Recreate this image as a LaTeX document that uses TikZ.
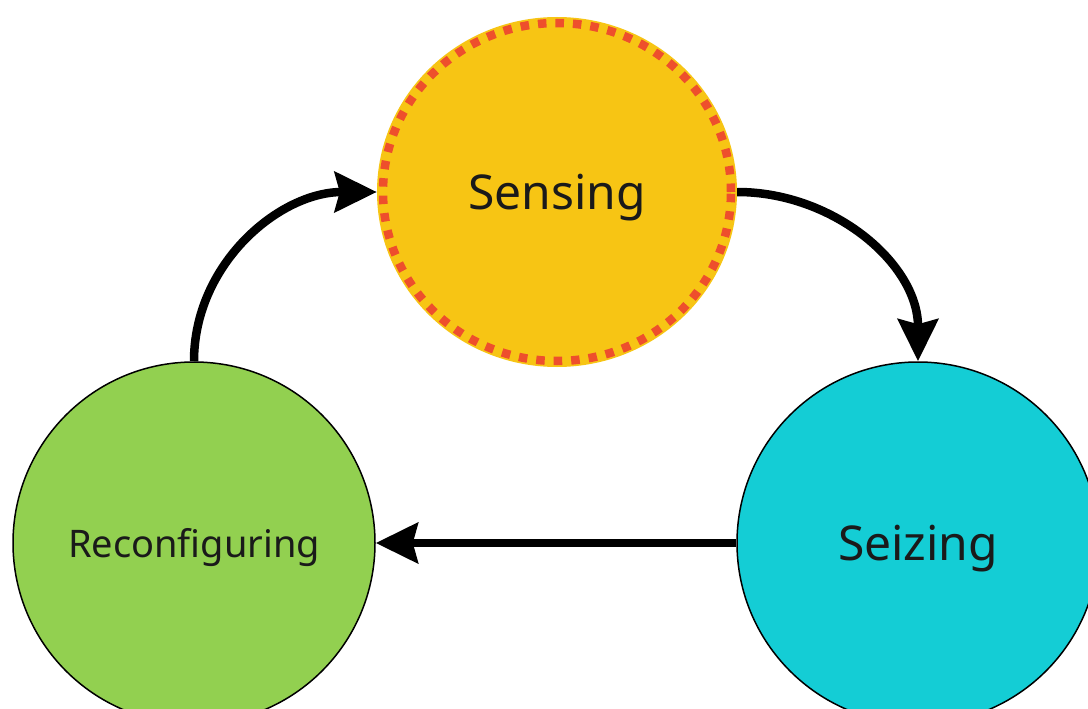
\documentclass[tikz,border=0pt]{standalone}
\usepackage{fontspec}
\setmainfont{Noto Sans}
\usetikzlibrary{arrows.meta,shapes.geometric}
\definecolor{senseyellow}{HTML}{F7C514}
\definecolor{sensedash}{HTML}{EE4F2C}
\definecolor{reconfgreen}{HTML}{92D050}
\definecolor{seizecyan}{HTML}{14CDD5}
\definecolor{labelink}{HTML}{1A1A1A}
\tikzset{
  stage/.style={ellipse, inner sep=0pt, text=labelink, text depth=0pt},
  flow/.style={line width=8.5pt, draw=black,
    -{Stealth[length=42pt, width=40pt, inset=5pt]}},
}
\begin{document}
\begin{tikzpicture}[x=1pt, y=-1pt]
  \useasboundingbox (0,0) rectangle (1088,709);
  \clip (0,0) rectangle (1088,709);
  \fill[white] (0,0) rectangle (1088,709);

  % the three stages of the cycle
  \node[stage, fill=senseyellow, minimum width=360pt, minimum height=350pt,
        font=\fontsize{48}{56}\selectfont] (sense) at (557,192) {Sensing};
  \draw[sensedash, line width=8.5pt, dash pattern=on 8.5pt off 9pt]
    (557,192) ellipse [x radius=174pt, y radius=169pt];
  \node[stage, fill=seizecyan, draw=black, line width=1.5pt,
        minimum width=362pt, minimum height=362pt,
        font=\fontsize{48}{56}\selectfont] (seize) at (918,543) {Seizing};
  \node[stage, fill=reconfgreen, draw=black, line width=1.5pt,
        minimum width=362pt, minimum height=362pt,
        font=\fontsize{38}{46}\selectfont] (reconf) at (194,543) {Reconfiguring};

  % transitions
  \draw[flow] (sense.east) to[out=0, in=90] (seize.north);
  \draw[flow] (seize.west) -- (reconf.east);
  \draw[flow] (reconf.north) to[out=90, in=180] (sense.west);
\end{tikzpicture}
\end{document}
